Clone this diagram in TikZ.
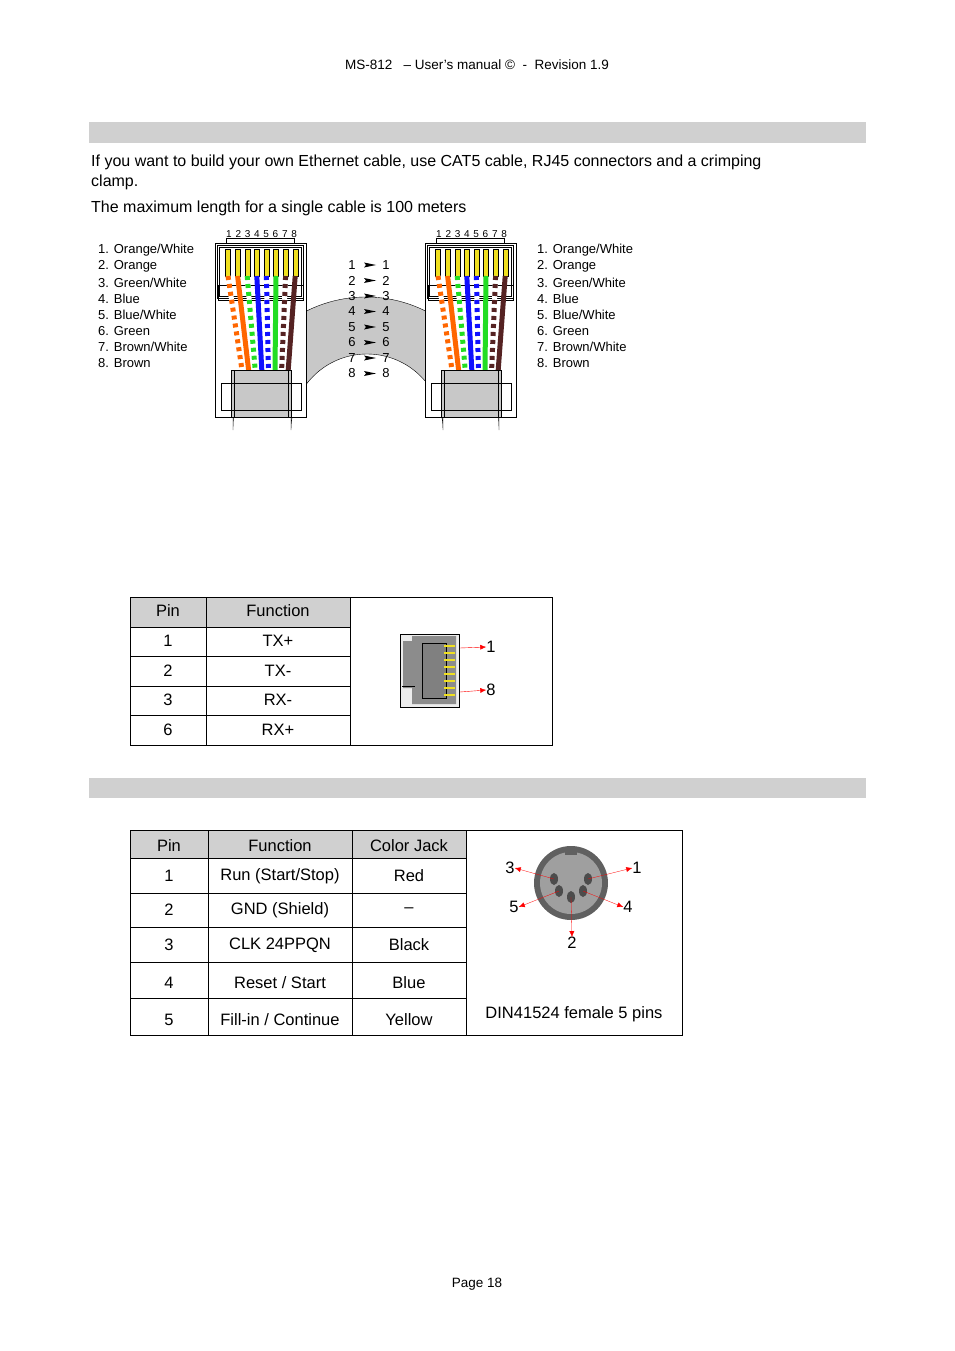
\documentclass[tikz,border=0pt]{standalone}
\usepackage{fontspec}
\setmainfont{Liberation Sans}
\usepackage{tikz}
\usetikzlibrary{arrows.meta,positioning}

\definecolor{barGray}{HTML}{D0D0D0}
\definecolor{cableGray}{HTML}{C8C8C8}
\definecolor{wOrange}{HTML}{FF6600}
\definecolor{wGreen}{HTML}{22DD22}
\definecolor{wBlue}{HTML}{1010FF}
\definecolor{wBrown}{HTML}{552222}
\definecolor{pinYellow}{HTML}{F0E020}

% one RJ45 plug with its 8 wires, shifted by #1
\newcommand\rjplug[1]{%
  \begin{scope}[xshift=#1]
    \draw[fill=white] (215,243) rectangle (306,417);
    \draw (217,245) rectangle (303,298);
    \draw (219,247) rectangle (301,296);
    \draw (218,285) rectangle (303,300);
    \draw (226,238) -- (226,243) (226,238) -- (294,238) -- (294,243);
    \foreach \k/\col/\strp in {1/wOrange/1,2/wOrange/0,3/wGreen/1,4/wBlue/0,
                               5/wBlue/1,6/wGreen/0,7/wBrown/1,8/wBrown/0}{
      \pgfmathsetmacro\xt{228+9.6*(\k-1)}
      \pgfmathsetmacro\xb{242+6.6*(\k-1)}
      \fill[pinYellow] (\xt-2.5,249) rectangle (\xt+2.5,276);
      \draw[line width=0.4pt] (\xt-2.5,249) rectangle (\xt+2.5,276);
      \ifnum\strp=1
        \draw[line width=5pt,white] (\xt,276) -- (\xb,370);
        \draw[line width=5pt,\col,dash pattern=on 4pt off 4pt] (\xt,276) -- (\xb,370);
      \else
        \draw[line width=5pt,\col] (\xt,276) -- (\xb,370);
      \fi
    }
    \fill[cableGray] (231,370) rectangle (291,417);
    \draw (231,370) rectangle (291,417);
    \draw (221,383) rectangle (301,410);
    \draw (234,370) -- (234,417) (288,370) -- (288,417);
    \foreach \k in {1,...,8}
      \node[font=\fontsize{10}{12}\selectfont] (n#1\k) at (229+9.3*\k-9.3,234) {\k};
  \end{scope}}

\begin{document}
\begin{tikzpicture}[x=1pt,y=-1pt,
    body/.style={font=\fontsize{16}{19}\selectfont, inner sep=0pt},
    small/.style={font=\fontsize{13.5}{16}\selectfont, inner sep=0pt},
    wirelbl/.style={font=\fontsize{13}{15.5}\selectfont, inner sep=0pt, anchor=west},
    cell/.style={font=\fontsize{16.5}{19}\selectfont, inner sep=0pt},
    redarrow/.style={red, -{Latex[length=6pt,width=5pt]}}
]
    \useasboundingbox (0,0) rectangle (954,1351);

    % header and text
    \node[small] (head) at (477,65) {MS-812 \ \ -- User’s manual © \ - \ Revision 1.9};
    \fill[barGray] (89,122) rectangle (866,143);
    \node[body, anchor=west] (txt1) at (91,162) {If you want to build your own Ethernet cable, use CAT5 cable, RJ45 connectors and a crimping};
    \node[body, anchor=west] (txt2) at (91,182) {clamp.};
    \node[body, anchor=west] (txt3) at (91,208) {The maximum length for a single cable is 100 meters};

    % cable
    \fill[cableGray] (233,400) -- (233,430) arc[start angle=180,end angle=360,radius=133]
      -- (499,400) -- (443,400) -- (443,430) arc[start angle=360,end angle=180,radius=76] -- (291,400) -- cycle;
    \draw (233,400) -- (233,430) arc[start angle=180,end angle=360,radius=133] -- (499,400);
    \draw (291,400) -- (291,430) arc[start angle=180,end angle=360,radius=76] -- (443,400);

    % plugs
    \rjplug{0}
    \rjplug{210}

    % wire colour lists
    \foreach \t [count=\i] in {Orange/White,Orange,Green/White,Blue,Blue/White,Green,Brown/White,Brown}{
      \node[wirelbl] (la\i) at (98,250+16.2*\i-16.2) {\i. \t};
      \node[wirelbl] (lb\i) at (537,250+16.2*\i-16.2) {\i. \t};
      \node[wirelbl, anchor=center] (ma\i) at (352,265+15.5*\i-15.5) {\i};
      \node[wirelbl, anchor=center] (mb\i) at (386,265+15.5*\i-15.5) {\i};
      \fill (364,262.5+15.5*\i-15.5) -- (376,265+15.5*\i-15.5) -- (364,267.5+15.5*\i-15.5) -- (366,265+15.5*\i-15.5) -- cycle;
    }

    % table 1
    \fill[barGray] (130,597) rectangle (350,627);
    \draw (130,597) rectangle (552,745);
    \draw (206,597) -- (206,745) (350,597) -- (350,745);
    \foreach \y in {627,656,686,715} \draw (130,\y) -- (350,\y);
    \node[cell] (p0) at (168,611) {Pin};
    \node[cell] (f0) at (278,611) {Function};
    \foreach \p/\f/\y in {1/TX+/641,2/TX-/671,3/RX-/700,6/RX+/730}{
      \node[cell] (p\p) at (168,\y) {\p};
      \node[cell] (f\p) at (278,\y) {\f};
    }
    % RJ45 jack
    \draw[fill=gray!15] (400,634) rectangle (459,707);
    \fill[gray!90] (412,636) -- (412,641) -- (403,641) -- (403,688) -- (412,688) -- (412,704) -- (456,704) -- (456,636) -- cycle;
    \draw[line width=1pt] (402,686) -- (415,686);
    \draw[fill=gray] (422,643) rectangle (446,698);
    \foreach \k in {0,...,7} \draw[pinYellow, line width=1.2pt] (444,646+7*\k) -- (455,646+7*\k);
    \coordinate (j1) at (460,648);
    \coordinate (j8) at (460,692);
    \node[cell] (pin1) at (491,647) {1};
    \node[cell] (pin8) at (491,690) {8};
    \draw[redarrow] (j1) -- (pin1.west);
    \draw[redarrow] (j8) -- (pin8.west);

    % second bar
    \fill[barGray] (89,778) rectangle (866,798);

    % table 2
    \fill[barGray] (130,830) rectangle (466,858);
    \draw (130,830) rectangle (682,1035);
    \draw (208,830) -- (208,1035) (352,830) -- (352,1035) (466,830) -- (466,1035);
    \foreach \y in {858,893,927,962,998} \draw (130,\y) -- (466,\y);
    \node[cell] (q0) at (169,846) {Pin};
    \node[cell] (g0) at (280,846) {Function};
    \node[cell] (c0) at (409,846) {Color Jack};
    \foreach \p/\f/\c/\y in {1/{Run (Start/Stop)}/Red/876,2/{GND (Shield)}/--/910,3/{CLK 24PPQN}/Black/945,
                             4/{Reset / Start}/Blue/983,5/{Fill-in / Continue}/Yellow/1020}{
      \node[cell] (q\p) at (169,\y) {\p};
      \node[cell] (g\p) at (280,\y) {\f};
      \node[cell] (c\p) at (409,\y) {\c};
    }

    % DIN connector
    \fill[gray!75!black] (571,883) circle[radius=37];
    \fill[gray!75] (571,883) circle[radius=31];
    \fill[gray!75!black] (565,850) rectangle (577,855);
    \foreach \n/\dx/\dy in {3/-17/-4,1/17/-4,5/-12/8,4/12/8,2/0/14}{
      \fill[black!70] (571+\dx,883+\dy) ellipse[x radius=4,y radius=6];
      \coordinate (d\n) at (571+\dx,883+\dy);
    }
    \node[cell] (din3) at (510,868) {3};
    \node[cell] (din1) at (637,868) {1};
    \node[cell] (din5) at (514,907) {5};
    \node[cell] (din4) at (628,907) {4};
    \node[cell] (din2) at (572,943) {2};
    \draw[redarrow, line width=0.3pt] (d3) -- (din3.east);
    \draw[redarrow, line width=0.3pt] (d1) -- (din1.west);
    \draw[redarrow, line width=0.3pt] (d5) -- (din5.east);
    \draw[redarrow, line width=0.3pt] (d4) -- (din4.west);
    \draw[redarrow, line width=0.3pt] (d2) -- (din2.north);
    \node[cell] (dinlbl) at (574,1014) {DIN41524 female 5 pins};

    % footer
    \node[small] (foot) at (477,1284) {Page 18};
\end{tikzpicture}
\end{document}
